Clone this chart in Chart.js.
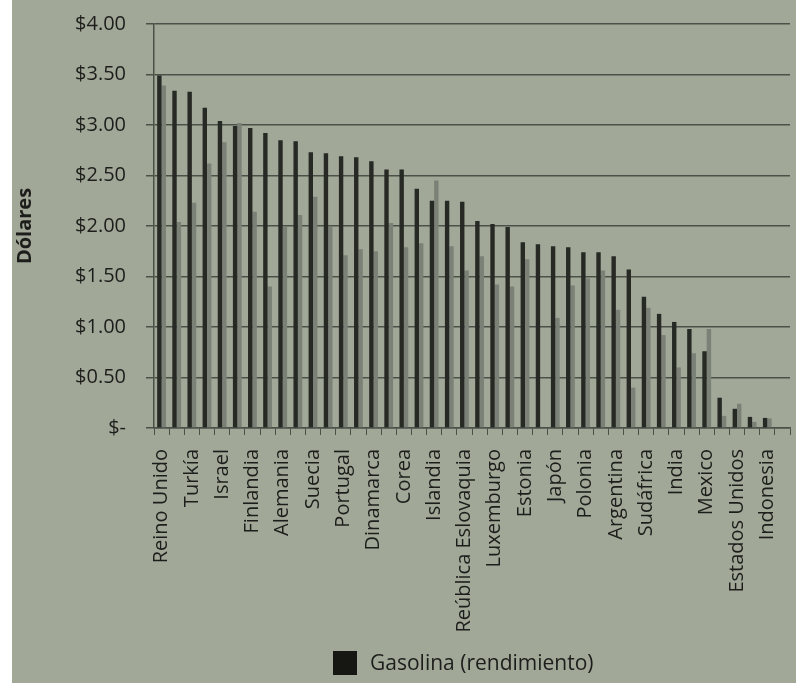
<!DOCTYPE html>
<html>
<head>
<meta charset="utf-8">
<script src="https://cdn.jsdelivr.net/npm/chart.js@4/dist/chart.umd.min.js"></script>
<style>
  html, body { margin: 0; padding: 0; background: #ffffff; }
  #wrap {
    position: absolute;
    left: 12px;
    top: 0;
    width: 784px;
    height: 683px;
    background: #a1a898;
  }
</style>
</head>
<body>
<div id="wrap"><canvas id="my-chart-bars"></canvas></div>
<script>
// countries, only every other one carries a visible name
const countries = [
  'Reino Unido', '', 'Turkía', '', 'Israel', '', 'Finlandia', '',
  'Alemania', '', 'Suecia', '', 'Portugal', '', 'Dinamarca', '',
  'Corea', '', 'Islandia', '', 'Reública Eslovaquia', '', 'Luxemburgo', '',
  'Estonia', '', 'Japón', '', 'Polonia', '', 'Argentina', '',
  'Sudáfrica', '', 'India', '', 'Mexico', '', 'Estados Unidos', '',
  'Indonesia', ''
];

const gasolina = [
  3.49, 3.34, 3.33, 3.17, 3.04, 2.99, 2.97, 2.92,
  2.85, 2.84, 2.73, 2.72, 2.69, 2.68, 2.64, 2.56,
  2.56, 2.37, 2.25, 2.25, 2.24, 2.05, 2.02, 1.99,
  1.84, 1.82, 1.80, 1.79, 1.74, 1.74, 1.70, 1.57,
  1.30, 1.13, 1.05, 0.98, 0.76, 0.30, 0.19, 0.11,
  0.10, null
];

const serie2 = [
  3.39, 2.04, 2.23, 2.62, 2.83, 3.02, 2.14, 1.40,
  1.99, 2.11, 2.29, 1.99, 1.71, 1.77, 1.75, 2.03,
  1.79, 1.83, 2.45, 1.80, 1.56, 1.70, 1.42, 1.40,
  1.67, null, 1.09, 1.41, 1.48, 1.56, 1.17, 0.40,
  1.19, 0.92, 0.60, 0.74, 0.98, 0.12, 0.24, 0.06,
  0.095, null
];

const yTicks = [0, 0.5, 1, 1.5, 2, 2.5, 3, 3.5, 4];

const textColor = '#1d1e1b';
const gridColor = '#4b5048';

// legend box for the first series, drawn under the plot
const bottomLegend = {
  id: 'bottomLegend',
  afterDraw(chart) {
    const ctx = chart.ctx;
    const ds = chart.data.datasets[0];
    ctx.save();
    ctx.fillStyle = '#161612';
    ctx.fillRect(321, 651, 24, 24);
    ctx.fillStyle = textColor;
    ctx.font = '21px "Open Sans"';
    ctx.textBaseline = 'middle';
    ctx.textAlign = 'left';
    ctx.fillText(ds.label, 358, 664);
    ctx.restore();
  }
};

const canvas = document.getElementById('my-chart-bars');
const ctx = canvas.getContext('2d');

new Chart(ctx, {
  type: 'bar',
  data: {
    labels: countries,
    datasets: [{
      label: 'Gasolina (rendimiento)',
      data: gasolina,
      backgroundColor: '#262924',
      categoryPercentage: 0.58,
      barPercentage: 1
    }, {
      label: 'Serie 2',
      data: serie2,
      backgroundColor: '#7c8177',
      categoryPercentage: 0.58,
      barPercentage: 1
    }]
  },
  options: {
    responsive: true,
    maintainAspectRatio: false,
    animation: false,
    layout: {
      padding: { top: 24, right: 6, left: 0, bottom: 0 }
    },
    scales: {
      x: {
        grid: {
          display: true,
          drawOnChartArea: false,
          color: gridColor,
          tickLength: 7,
          offset: true
        },
        border: { color: gridColor, width: 1.5 },
        ticks: {
          autoSkip: false,
          minRotation: 90,
          maxRotation: 90,
          padding: 14,
          color: textColor,
          font: { family: 'Open Sans', size: 20 }
        },
        afterFit(scale) {
          scale.height = 255;
          scale.paddingLeft = 0;
          scale.paddingRight = 0;
        }
      },
      y: {
        min: 0,
        max: 4,
        afterBuildTicks(scale) {
          scale.ticks = yTicks.map(v => ({ value: v }));
        },
        grid: {
          color: gridColor,
          lineWidth: 1.5,
          tickLength: 8
        },
        border: { color: gridColor, width: 1.5 },
        ticks: {
          padding: 20,
          color: textColor,
          font: { family: 'Open Sans', size: 20 },
          callback: v => v === 0 ? '$-' : '$' + Number(v).toFixed(2)
        },
        title: {
          display: true,
          text: 'Dólares',
          color: textColor,
          font: { family: 'Open Sans', size: 20, weight: 'bold' },
          padding: { top: 1, bottom: 0 }
        },
        afterFit(scale) {
          scale.width = 142;
          scale.paddingTop = 0;
          scale.paddingBottom = 0;
        }
      }
    },
    plugins: {
      legend: { display: false },
      tooltip: { enabled: false }
    }
  },
  plugins: [bottomLegend]
});
</script>
</body>
</html>
